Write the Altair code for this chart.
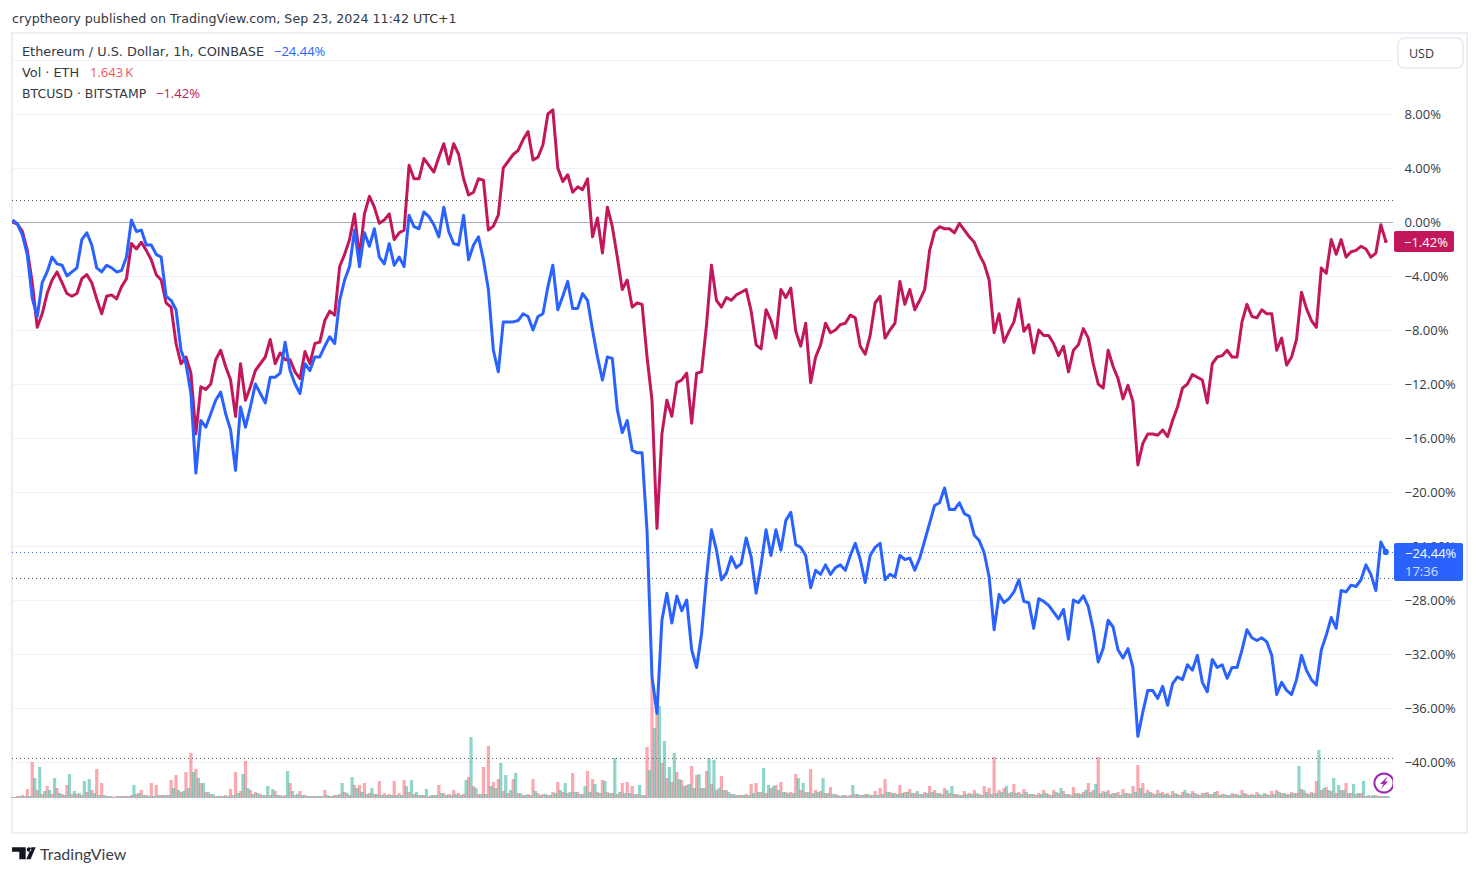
import altair as alt
import pandas as pd

# 8-hourly samples from 2024-06-23 00:00 (percent change since the start)
eth_pct = [
 0.15,-0.15,-0.96,-2.44,-5.65,-7.0,-4.5,-3.7,-2.6,-3.1,
 -3.2,-4.0,-3.7,-3.4,-1.3,-0.8,-1.7,-3.4,-3.7,-3.2,
 -3.4,-3.7,-3.6,-2.6,0.15,-0.7,-0.6,-1.7,-1.7,-2.4,
 -2.6,-5.5,-5.8,-6.5,-9.5,-10.5,-12.7,-18.6,-14.7,-15.2,
 -14.2,-13.2,-12.6,-14.2,-15.4,-18.4,-13.7,-15.2,-13.7,-12.0,
 -12.7,-13.4,-11.5,-11.5,-11.2,-8.9,-11.0,-12.0,-12.7,-10.5,
 -11.0,-10.0,-10.0,-9.2,-8.5,-9.0,-5.8,-4.3,-3.3,-0.6,
 -3.3,-0.8,-1.8,-0.5,-2.6,-3.1,-1.6,-3.2,-2.6,-3.3,
 0.5,-0.35,-0.5,0.75,0.4,-0.2,-1.1,1.1,-0.7,-1.6,
 -1.7,0.5,-2.8,-1.7,-1.1,-2.8,-5.0,-9.5,-11.1,-7.4,
 -7.4,-7.4,-7.3,-6.8,-7.0,-8.0,-7.0,-6.8,-4.8,-3.2,
 -6.5,-5.5,-4.4,-6.4,-6.4,-5.3,-5.8,-8.0,-10.0,-11.7,
 -10.0,-10.1,-13.9,-15.6,-14.7,-16.9,-17.1,-17.1,-22.9,-33.7,
 -36.4,-29.5,-27.5,-29.7,-27.7,-28.8,-28.0,-31.7,-33.0,-30.5,
 -26.3,-22.8,-24.3,-26.5,-26.0,-24.8,-25.6,-25.3,-23.4,-24.8,
 -27.5,-25.4,-22.8,-24.7,-22.8,-24.3,-22.1,-21.5,-23.9,-24.1,
 -24.7,-27.1,-25.8,-26.1,-25.4,-26.1,-25.6,-25.4,-25.8,-24.7,
 -23.8,-25.0,-26.7,-24.7,-24.1,-23.8,-26.5,-26.1,-26.3,-24.7,
 -25.0,-24.9,-25.8,-24.9,-23.6,-22.3,-21.0,-20.8,-19.7,-21.3,
 -21.3,-20.8,-21.6,-21.8,-23.2,-23.6,-24.5,-26.3,-30.2,-27.6,
 -28.2,-27.9,-27.4,-26.5,-28.1,-28.2,-30.1,-27.9,-28.1,-28.4,
 -28.9,-29.4,-28.7,-30.9,-28.0,-28.2,-27.7,-28.5,-30.2,-32.6,
 -31.6,-29.5,-30.0,-31.7,-32.3,-31.6,-33.0,-38.1,-36.3,-34.7,
 -34.7,-35.3,-34.4,-35.8,-34.2,-33.7,-33.9,-32.8,-33.2,-32.1,
 -34.1,-34.8,-32.4,-33.0,-32.8,-33.8,-33.0,-33.0,-31.7,-30.2,
 -30.8,-31.0,-30.8,-31.1,-32.1,-35.0,-34.1,-34.7,-35.0,-33.9,
 -32.1,-33.2,-33.9,-34.3,-31.7,-30.6,-29.3,-30.1,-27.3,-27.4,
 -26.9,-27.0,-26.5,-25.4,-26.1,-27.3,-23.7,-24.44]

btc_pct = [
 0.0,-0.15,-0.7,-2.1,-4.5,-7.8,-6.8,-5.3,-4.3,-3.7,
 -4.5,-5.3,-5.5,-5.3,-4.2,-3.9,-4.5,-5.7,-6.8,-5.5,
 -5.4,-5.7,-4.8,-4.2,-1.6,-2.0,-1.5,-2.1,-2.8,-3.9,
 -4.3,-6.0,-6.3,-9.0,-10.5,-10.0,-11.2,-15.7,-12.2,-12.4,
 -12.0,-10.2,-9.5,-10.7,-11.7,-14.4,-10.5,-13.2,-12.2,-11.0,
 -10.5,-10.0,-8.7,-10.5,-9.7,-10.2,-10.2,-11.1,-11.6,-9.6,
 -10.5,-9.0,-8.9,-7.3,-6.6,-6.9,-3.3,-2.4,-1.3,0.6,
 -2.6,0.6,1.9,1.1,-0.1,0.15,0.6,-1.3,-0.8,-0.6,
 4.2,3.2,3.2,4.7,4.2,3.7,4.8,5.8,4.3,5.8,
 5.0,3.2,2.0,2.2,3.2,3.1,-0.6,-0.3,0.5,4.0,
 4.5,5.0,5.3,6.1,6.7,4.6,4.8,5.7,8.0,8.3,
 4.0,3.0,3.5,2.2,2.6,2.4,3.2,-1.1,0.3,-2.3,
 1.1,-0.35,-2.6,-5.0,-4.3,-6.3,-6.0,-6.1,-10.0,-13.2,
 -22.7,-15.7,-13.2,-14.4,-11.9,-11.7,-11.2,-14.9,-11.2,-11.1,
 -7.6,-3.2,-5.8,-6.3,-5.6,-5.8,-5.4,-5.2,-5.0,-6.6,
 -9.1,-9.4,-6.5,-7.3,-8.6,-5.0,-5.6,-4.9,-8.1,-9.2,
 -7.5,-11.9,-10.0,-9.1,-7.5,-8.2,-8.0,-7.6,-7.5,-6.9,
 -7.1,-9.2,-9.8,-8.4,-6.0,-5.5,-8.6,-8.0,-7.5,-4.4,
 -6.1,-5.0,-6.5,-5.8,-5.0,-2.1,-0.7,-0.35,-0.5,-0.5,
 -0.8,-0.1,-0.6,-1.1,-1.5,-2.4,-3.1,-4.3,-8.2,-6.8,
 -8.9,-8.1,-7.4,-5.7,-8.1,-7.6,-9.7,-8.0,-8.4,-8.4,
 -9.0,-9.9,-9.2,-11.1,-9.5,-9.1,-7.9,-8.6,-10.5,-12.0,
 -12.3,-9.5,-10.7,-11.6,-13.1,-12.1,-13.3,-18.0,-16.4,-15.7,
 -15.7,-15.8,-15.4,-15.9,-14.7,-13.7,-12.3,-12.0,-11.3,-11.5,
 -11.7,-13.4,-10.5,-10.0,-9.9,-9.5,-10.0,-10.0,-7.4,-6.1,
 -7.0,-7.1,-6.5,-6.8,-6.8,-9.5,-8.6,-10.6,-10.0,-8.7,
 -5.2,-6.4,-7.3,-7.8,-3.4,-3.8,-1.3,-2.4,-1.3,-2.6,
 -2.2,-2.1,-1.8,-2.0,-2.6,-2.3,-0.2,-1.42]

# volume in thousand ETH on down and up periods
vol_down = [
 1,2,3,9,36,8,4,12,4,10,
 4,13,4,4,3,6,8,29,15,2,
 2,2,2,2,3,4,8,3,15,13,
 3,3,18,23,6,26,45,29,15,6,
 4,2,2,3,9,26,7,37,8,6,
 4,3,3,7,3,3,15,3,7,3,
 2,2,2,8,2,3,4,6,3,13,
 13,15,5,4,17,5,4,17,5,18,
 6,4,3,3,2,3,13,5,4,8,
 5,4,21,12,4,31,52,16,19,7,
 5,19,5,3,4,19,5,4,3,6,
 16,6,5,25,6,4,27,19,6,18,
 6,5,4,15,16,12,4,3,51,119,
 96,35,20,16,26,18,13,32,23,10,
 27,14,8,22,8,4,3,3,4,14,
 15,6,5,10,13,16,6,6,24,8,
 6,29,8,7,5,11,4,2,3,3,
 4,3,4,3,7,10,19,6,5,13,
 6,9,5,4,6,12,8,5,10,5,
 4,3,7,5,8,4,12,10,41,8,
 10,5,14,6,9,4,4,5,8,4,
 8,5,7,4,11,5,6,15,8,41,
 7,8,5,6,9,5,12,33,15,8,
 5,8,6,5,7,4,6,5,7,4,
 5,6,4,7,4,3,5,4,8,4,
 4,6,3,4,7,8,5,4,6,5,
 9,5,6,17,8,11,7,5,8,15,
 5,4,5,2,2,3,2,2]

vol_up = [
 1,2,2,2,20,31,7,8,20,5,
 3,24,7,5,17,19,5,3,3,2,
 1,2,2,2,13,5,3,2,2,3,
 3,3,10,8,7,10,26,20,15,6,
 4,2,2,2,3,5,24,10,4,5,
 3,12,9,3,2,27,7,4,3,2,
 2,2,2,3,2,3,15,5,21,10,
 6,4,10,4,3,3,3,3,3,12,
 18,6,3,9,3,3,5,3,3,4,
 3,18,61,10,4,4,12,10,35,23,
 8,25,5,3,3,7,3,4,3,5,
 8,15,6,6,4,12,6,14,5,17,
 5,40,6,5,5,4,13,3,28,70,
 92,57,31,45,19,12,14,10,24,10,
 40,38,10,8,6,4,3,3,3,5,
 6,30,13,12,8,6,5,5,20,15,
 6,5,6,20,5,4,3,3,2,13,
 4,3,4,3,3,4,6,5,4,5,
 6,5,7,4,5,6,5,4,8,12,
 4,3,4,4,5,3,6,4,5,6,
 12,6,5,4,6,4,3,4,5,3,
 6,10,4,3,5,4,8,6,14,5,
 6,4,5,3,5,4,6,10,5,6,
 4,5,4,3,5,3,8,4,5,3,
 5,4,6,3,4,3,4,3,5,3,
 3,4,5,3,4,6,5,4,5,32,
 8,4,5,48,10,8,20,13,8,5,
 14,5,17,3,3,2,2,2]

price_ticks = [12, 8, 4, 0, -4, -8, -12, -16, -20, -24, -28, -32, -36, -40]
date_ticks = ["2024-06-24", "2024-07-01", "2024-07-08", "2024-07-15", "2024-07-22",
              "2024-08-01", "2024-08-12", "2024-08-19", "2024-08-25T12:00:00",
              "2024-09-01", "2024-09-09", "2024-09-16", "2024-09-23"]
dotted_levels = [1.63, -26.37, -39.7]
last_eth = -24.44

FONT = "Open Sans"
WIDE = "DejaVu Sans"
INK = "#333842"
BLUE = "#2962FF"
RED = "#C2185B"
GRID = "#F0F1F6"

def ms(s):
    return int(pd.Timestamp(s, tz="UTC").timestamp() * 1000)

start = pd.Timestamp("2024-06-23", tz="UTC")
times = [(start + pd.Timedelta(hours=8 * i)) for i in range(len(eth_pct))]
t_ms = [int(t.timestamp() * 1000) for t in times]
t_up = [int((t + pd.Timedelta(hours=4)).timestamp() * 1000) for t in times]

x_scale = alt.Scale(type="utc", domain=[ms("2024-06-22T23:18:00"), ms("2024-09-23T19:40:00")], nice=False, padding=0)
y_scale = alt.Scale(domain=[-42.667, 14.0], nice=False)
v_scale = alt.Scale(domain=[0, 765], nice=False)

X = alt.X("t:T", scale=x_scale, axis=None, title=None)
Y = alt.Y("v:Q", scale=y_scale, axis=None, title=None)
V = alt.Y("v:Q", scale=v_scale, axis=None, title=None)

one = alt.Data(values=[{"a": 1}])

def txt(s, x, y, color=INK, size=13, weight="normal", align="left", font=FONT, opacity=1):
    return alt.Chart(one).mark_text(align=align, baseline="middle", font=font, fontSize=size,
                                    fontWeight=weight, color=color, opacity=opacity).encode(
        x=alt.value(x), y=alt.value(y), text=alt.value(s))

def box(x1, x2, y1, y2, fill=None, stroke=None, sw=1, radius=0):
    kw = {}
    if fill: kw["fill"] = fill
    else: kw["fillOpacity"] = 0
    if stroke:
        kw["stroke"] = stroke
        kw["strokeWidth"] = sw
    if radius: kw["cornerRadius"] = radius
    return alt.Chart(one).mark_rect(**kw).encode(
        x=alt.value(x1), x2=alt.value(x2), y=alt.value(y1), y2=alt.value(y2))

# axes and grid
axes = alt.Chart(pd.DataFrame({"t": [t_ms[0]], "v": [0.0]})).mark_point(opacity=0).encode(
    x=alt.X("t:T", scale=x_scale, title=None, axis=alt.Axis(
        values=[ms(d) for d in date_ticks], grid=True, gridColor=GRID, gridWidth=1,
        domain=False, ticks=False, labelPadding=10, labelFont=FONT, labelFontSize=13,
        labelColor=INK, labelOverlap=False, labelFlush=False,
        labelFontWeight={"condition": {"test": "utcdate(datum.value)==1", "value": "bold"}, "value": "normal"},
        labelExpr="utchours(datum.value)==12 ? '12:00' : (utcdate(datum.value)==1 ? utcFormat(datum.value,'%b') : utcFormat(datum.value,'%-d'))")),
    y=alt.Y("v:Q", scale=y_scale, title=None, axis=alt.Axis(
        orient="right", values=price_ticks, grid=True, gridColor=GRID, gridWidth=1,
        domain=False, ticks=False, labelPadding=11, labelAlign="left", labelFont=FONT,
        labelFontSize=13, labelColor=INK, labelOverlap=False, labelFlush=False, labelOffset=1,
        labelExpr="datum.value==12 ? '' : (datum.value<0 ? '\u2212' : '') + format(abs(datum.value),'.2f') + '%'")),
)

frame = box(0, 1455, 0, 800, stroke="#ECEEF4", sw=2)

bars_down = alt.Chart(pd.DataFrame({"t": t_ms, "v": vol_down})).mark_bar(
    width=3.2, color="#F7525F", opacity=0.5).encode(x=X, y=V)
bars_up = alt.Chart(pd.DataFrame({"t": t_up, "v": vol_up})).mark_bar(
    width=3.2, color="#22AB94", opacity=0.5).encode(x=X, y=V)

dots = alt.Chart(pd.DataFrame({"v": dotted_levels})).mark_rule(
    color="#555555", strokeDash=[1, 3], strokeWidth=1, yOffset=0.5).encode(y=Y)
dot_last = alt.Chart(pd.DataFrame({"v": [last_eth]})).mark_rule(
    color=BLUE, strokeDash=[1, 3], strokeWidth=1, yOffset=0.5).encode(y=Y)
zero = alt.Chart(pd.DataFrame({"v": [0.0]})).mark_rule(
    color="#A9A8B8", strokeWidth=1, yOffset=0.5).encode(y=Y)

line_btc = alt.Chart(pd.DataFrame({"t": t_ms, "v": btc_pct})).mark_line(
    color=RED, strokeWidth=3, strokeJoin="round", interpolate="linear").encode(x=X, y=Y)
line_eth = alt.Chart(pd.DataFrame({"t": t_ms, "v": eth_pct})).mark_line(
    color=BLUE, strokeWidth=3, strokeJoin="round", interpolate="linear").encode(x=X, y=Y)
end_eth = alt.Chart(pd.DataFrame({"t": t_ms[-1:], "v": eth_pct[-1:]})).mark_point(
    filled=True, color=BLUE, size=38, opacity=1).encode(x=X, y=Y)
end_btc = alt.Chart(pd.DataFrame({"t": t_ms[-1:], "v": btc_pct[-1:]})).mark_point(
    filled=True, color=RED, size=14, opacity=1).encode(x=X, y=Y)

# lightning badge
ring = alt.Chart(one).mark_point(shape="circle", size=370, color="#9C27B0", strokeWidth=2,
                                 filled=False, opacity=1).encode(x=alt.value(1372), y=alt.value(750))
ring_cut = box(1381, 1386, 736, 765, fill="white")
bolt = alt.Chart(one).mark_point(shape="M3,-6 L-4,1 L-0.5,1 L-3,6 L4,-1.5 L0.8,-1.5 L3.5,-6 Z", size=4,
                                 filled=True, color="#9C27B0", opacity=1, strokeWidth=0).encode(
    x=alt.value(1372), y=alt.value(750))

# logo
logo = alt.Chart(one).mark_point(
    shape=("M-12,-5.7 H1.7 V6.3 H-4.7 V-1.3 H-12 Z "
           "M2.7,-3.5 a2.3,2.3 0 1 0 4.6,0 a2.3,2.3 0 1 0 -4.6,0 Z "
           "M11.7,-5.7 L6.6,6.3 H2.3 L7.4,-5.7 Z"),
    size=4, filled=True, color="#131722", opacity=1, strokeWidth=0).encode(
    x=alt.value(12), y=alt.value(820))

layers = [
    axes, frame, bars_down, bars_up, dots, dot_last, zero, line_btc, line_eth, end_btc, end_eth,
    ring, ring_cut, bolt,
    box(1386, 1451, 5, 35, fill="white", stroke="#E6E8EF", sw=1.5, radius=6),
    txt("USD", 1397, 21, size=12.5),
    box(1382, 1442, 198, 219, fill=RED, radius=2),
    txt("\u22121.42%", 1392, 210, color="white", size=13),
    box(1382, 1451, 510, 548, fill=BLUE, radius=2),
    txt("\u221224.44%", 1393, 521, color="white", size=13),
    txt("17:36", 1393, 539, color="white", size=13, opacity=0.8),
    txt("cryptheory published on TradingView.com, Sep 23, 2024 11:42 UTC+1", 0, -14, font=WIDE, size=12.65),
    txt("Ethereum / U.S. Dollar, 1h, COINBASE", 10, 19, font=WIDE, size=12.85),
    txt("\u221224.44%", 262, 19, color=BLUE),
    txt("Vol \u00b7 ETH", 10, 40, font=WIDE, size=12.85),
    txt("1.643\u2009K", 78, 40, color="#F7525F"),
    txt("BTCUSD \u00b7 BITSTAMP", 10, 61, font=WIDE, size=12.5),
    txt("\u22121.42%", 144, 61, color=RED),
    logo,
    txt("TradingView", 28, 822, size=16, font="Lato", color="#3a3e48"),
]

chart = alt.layer(*layers).resolve_scale(y="independent").properties(
    width=1381, height=765,
    padding={"left": 4, "top": 25, "right": 76, "bottom": 72},
    autosize=alt.AutoSizeParams(type="none"),
    background="white",
).configure_view(strokeWidth=0)

chart.save("out.html", embed_options={"renderer": "svg", "actions": False})
